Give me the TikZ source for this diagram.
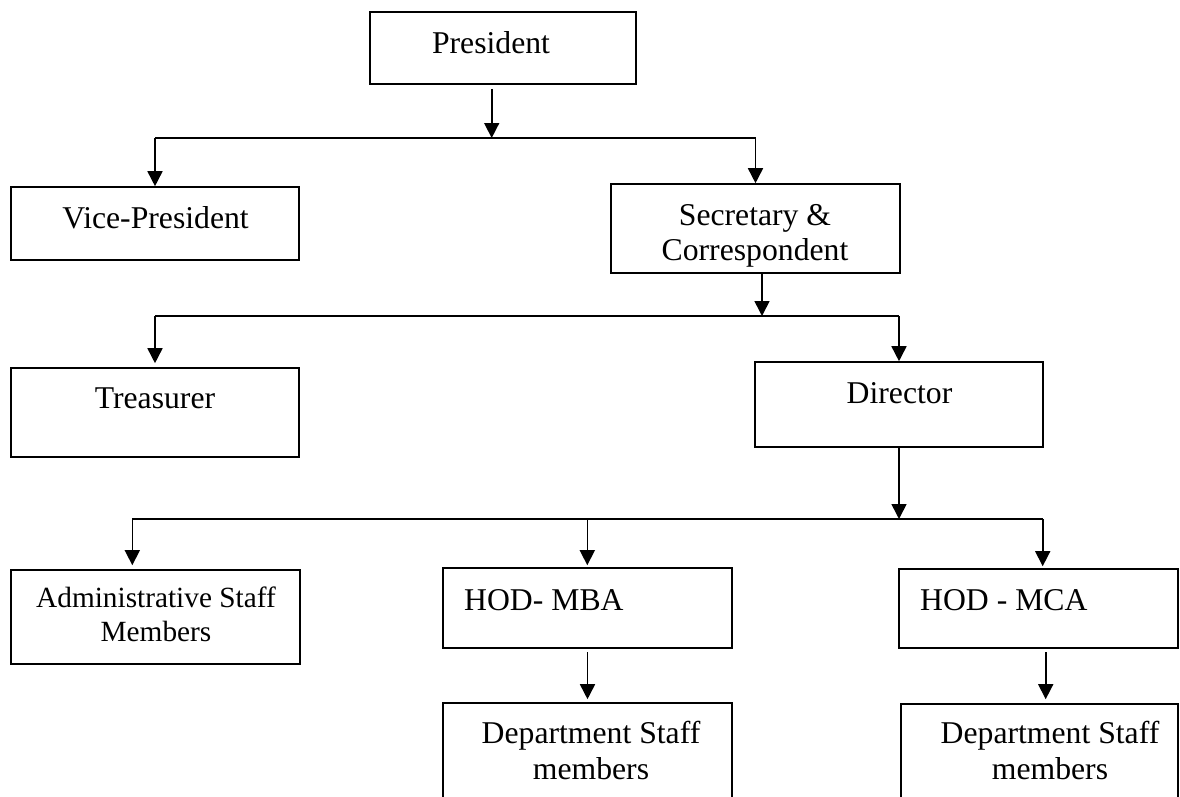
\documentclass[tikz,border=0pt]{standalone}
\usepackage{fontspec}
\setmainfont{Liberation Serif}
\usetikzlibrary{arrows.meta}
\begin{document}
\begin{tikzpicture}[x=1pt,y=-1pt,
  box/.style={draw, line width=1.6pt, inner sep=0pt},
  lbl/.style={inner sep=0pt, anchor=base, align=center, font=\fontsize{31.7}{35.7}\selectfont},
  lbll/.style={inner sep=0pt, anchor=base west, font=\fontsize{31.7}{35.7}\selectfont},
  small/.style={font=\fontsize{29.3}{34.4}\selectfont},
  conn/.style={line width=1.6pt},
  arr/.style={line width=1.6pt, -{Triangle[length=15pt,width=15pt]}}]
\clip (0,0) rectangle (1180,796);
\fill[white] (0,0) rectangle (1180,796);
% boxes
\node[box, minimum width=266pt, minimum height=72pt] (pres) at (503,48) {};
\node[box, minimum width=288pt, minimum height=73pt] (vp) at (155,223.5) {};
\node[box, minimum width=289pt, minimum height=89pt] (sec) at (755.5,228.5) {};
\node[box, minimum width=288pt, minimum height=89pt] (trea) at (155,412.5) {};
\node[box, minimum width=288pt, minimum height=85pt] (dir) at (899,404.5) {};
\node[box, minimum width=289pt, minimum height=94pt] (adm) at (155.5,617) {};
\node[box, minimum width=289pt, minimum height=80pt] (mba) at (587.3,608) {};
\node[box, minimum width=279pt, minimum height=79pt] (mca) at (1038.5,608.5) {};
\node[box, minimum width=289pt, minimum height=130pt] (dmba) at (587.3,768) {};
\node[box, minimum width=277pt, minimum height=130pt] (dmca) at (1039.5,769) {};
% texts (multi-line labels are anchored at the baseline of their last line)
\node[lbl] (tpres) at (491,53.3) {President};
\node[lbl] (tvp) at (155.5,228.3) {Vice-President};
\node[lbl] (tsec) at (755,260.7) {Secretary \&\\Correspondent};
\node[lbl] (ttrea) at (155,408.3) {Treasurer};
\node[lbl] (tdir) at (899.5,403) {Director};
\node[lbl, small] (tadm) at (156,641.7) {Administrative Staff\\Members};
\node[lbll] (tmba) at (464,610) {HOD- MBA};
\node[lbll] (tmca) at (920,610) {HOD - MCA};
\node[lbl] (tdmba) at (591,779.3) {Department Staff\\members};
\node[lbl] (tdmca) at (1050,779.3) {Department Staff\\members};
% junctions
\coordinate (j1) at (491.7,138);
\coordinate (j2) at (762,316);
\coordinate (j3) at (899,519);
% level 1
\draw[arr] ([yshift=-4pt]pres.south -| j1) -- (j1);
\draw[conn] (vp.north |- j1) -- (sec.north |- j1);
\draw[arr] (vp.north |- j1) -- (vp.north);
\draw[arr] (sec.north |- j1) -- (sec.north);
% level 2
\draw[arr] (sec.south -| j2) -- (j2);
\draw[conn] (trea.north |- j2) -- (dir.north |- j2);
\draw[arr] (trea.north |- j2) -- ([yshift=4pt]trea.north);
\draw[arr] (dir.north |- j2) -- (dir.north);
% level 3
\draw[arr] (dir.south -| j3) -- (j3);
\coordinate (a3) at (132.3,519);
\coordinate (c3) at (1042.7,519);
\draw[conn] (a3) -- (c3);
\draw[arr] (a3) -- ([yshift=4pt]a3 |- adm.north);
\draw[arr] (mba.north |- j3) -- ([yshift=2pt]mba.north);
\draw[arr] (c3) -- ([yshift=2pt]c3 |- mca.north);
% level 4
\coordinate (m4) at (587.5,652);
\coordinate (n4) at (1045.7,652);
\draw[arr] (m4) -- ([yshift=3pt]m4 |- dmba.north);
\draw[arr] (n4) -- ([yshift=4pt]n4 |- dmca.north);
\end{tikzpicture}
\end{document}
